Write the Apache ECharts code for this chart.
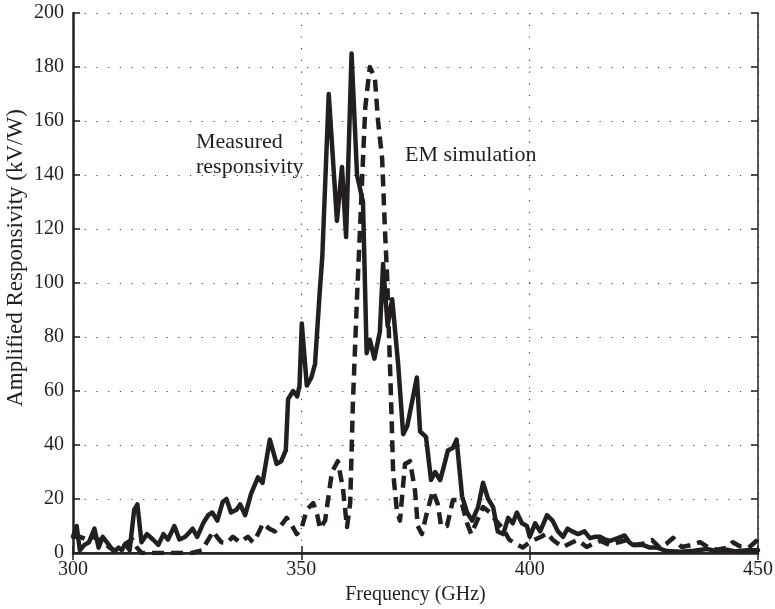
<!DOCTYPE html>
<html>
<head>
<meta charset="utf-8">
<script src="https://cdn.jsdelivr.net/npm/echarts@6/dist/echarts.min.js"></script>
<style>
html,body{margin:0;padding:0;background:#fff;}
#chart{width:775px;height:609px;}
</style>
</head>
<body>
<div id="chart"></div>
<script>
// Measured responsivity (solid)
var measuredFreq = [300,300.8,301.5,302.5,303.5,304.7,305.6,306.5,307.4,308.3,309,310,310.7,311.5,312.4,313.4,314.1,315,316.2,317.5,318.7,319.8,320.8,322.2,323.3,324.6,326.2,327.2,328.5,329.6,330.5,331.6,332.8,333.6,334.6,335.8,336.6,337.7,339,340.5,341.5,343.1,344.6,345.6,346.6,347.1,348.2,349.1,349.6,350.1,351.2,352.2,353,354,354.6,356,357.8,358.9,359.8,361,362.2,363.5,364.3,365,366,367.2,367.9,368.9,369.9,371.2,372.3,373.2,375.3,376,377.3,378.4,379.3,380.4,381.2,382.1,383.2,384,385.2,386.3,387.4,388.7,389.8,390.9,392,393,394.2,395.3,396.3,397.2,398.3,399.4,400,401.2,402.3,403.8,405,406.2,407.3,408.3,409.3,410.6,412,413.2,414.4,415.4,416.5,417.6,419.3,420.8,421.8,422.6,424.8,426.3,427.9,430,433,436,438.8,441,443.2,445,447.6,450];
var measuredVal = [6,10,1,3,4,9,2,6,4,2,0.5,2,1,3.5,1,16,18,4,7,5,3,7,5,10,5,6,9,6,11,14,15,12,19,20,15,16,18,14,22,28,26,42,33,34,38,57,60,58,62,85,62,65,70,96,110,170,123,143,117,185,140,130,74,79,72,82,107,84,94,70,44,47,65,45,43,27,30,27,32,38,39,42,21,15,12,17,26,20,17,8,7,13,11,15,11,10,6,11,8,14,12,8,6,9,8,7,8,5.5,6,6,5,4.5,5.5,6.5,4,3,3,2,2,0.7,0.5,0.8,1.5,0.7,1.2,0.6,1,1];

// EM simulation (dashed)
var simFreq = [300,301.5,303,304.4,305.5,306.6,308,309,310,311,312,313,314,315,318,322,326,328.3,329.3,330.7,331.5,332.5,333.7,335,336.5,338.3,339.4,340.5,341.6,343,344.2,345.3,346.8,348,349,350,351.2,352.6,353.5,354.1,355.2,356.7,358,359.1,360,360.7,361.3,362.2,362.8,363.3,364,365,366.1,366.8,367.7,368.3,368.8,369.2,369.5,369.8,370.1,370.9,371.6,372.7,373.8,374.9,375.5,376.4,377.5,378.8,379.9,380.6,381.9,383.2,384.3,385.2,386.3,387.2,388.5,389.8,391.3,392.6,394.2,395.5,396.8,398.5,400,401.2,402.5,403.8,405,406,407.3,408.8,410.4,411.5,412.5,414,415.5,417.5,419.5,421.3,423,425,426.8,428.5,430,431.4,433.3,435.5,437.3,439,441,443.2,444.5,446,448,449,450];
var simVal = [6,6,5,6,5,4.5,2,1,1.5,2.5,4,5,2,0,0,0,0,1,4,8,6,4,3.7,6,4,6,4,7,11,9,8,9.6,13,10,7,9,16,18.5,14,9,12,30,34,24,9.6,18.5,56,95,118,138,165,180,176,160,146,120,102,80,65,48,30,16,12,33,34,23,10,7,15,23,18,10,10,19.6,19.6,18,11,7,12,17,15,12,9,5,3.5,2,4,5,6,7.4,5,3.7,2.2,3.5,4.8,3.5,2.2,3.5,4.5,3,4,4.8,3,3.5,4.8,1.9,3.5,5.6,2.2,3,4,2.2,1.2,1.9,4,2.5,2,3.5,5];

var xTicks = [300, 350, 400, 450];
var yTicks = [0, 20, 40, 60, 80, 100, 120, 140, 160, 180, 200];

function pairs(xs, ys){ return xs.map(function(x,i){ return [x, ys[i]]; }); }

var FONT = 'Liberation Serif';
var INK = '#231f20';
var chart = echarts.init(document.getElementById('chart'));
var gridDot = { show:true, lineStyle:{ color:'#444', width:1.2, type:[1.2,10.5] } };

chart.setOption({
  animation:false,
  backgroundColor:'#fff',
  grid:{ left:73, right:17, top:13, bottom:56, containLabel:false, outerBoundsMode:'none' },
  xAxis:[{
    type:'value', min:300, max:450, interval:50,
    axisLine:{ show:true, onZero:false, lineStyle:{ color:INK, width:2.5 } },
    axisTick:{ show:true, inside:true, length:7, lineStyle:{ color:INK, width:1.5 } },
    axisLabel:{ color:INK, fontFamily:FONT, fontSize:20, margin:7,
      formatter:function(v){ return xTicks.indexOf(v) >= 0 ? String(v) : ''; } },
    splitLine: gridDot,
    name:'Frequency (GHz)', nameLocation:'middle', nameGap:30,
    nameTextStyle:{ color:INK, fontFamily:FONT, fontSize:20 }
  },{
    type:'value', position:'top', min:300, max:450, interval:50,
    axisLine:{ show:true, lineStyle:{ color:INK, width:1.5 } },
    axisTick:{ show:true, inside:true, length:7, lineStyle:{ color:INK, width:1.5 } },
    axisLabel:{ show:false }, splitLine:{ show:false }
  }],
  yAxis:[{
    type:'value', min:0, max:200, interval:20,
    axisLine:{ show:true, onZero:false, lineStyle:{ color:INK, width:2.5 } },
    axisTick:{ show:true, inside:true, length:7, lineStyle:{ color:INK, width:1.5 } },
    axisLabel:{ color:INK, fontFamily:FONT, fontSize:20, margin:9,
      formatter:function(v){ return yTicks.indexOf(v) >= 0 ? String(v) : ''; } },
    splitLine: gridDot
  },{
    type:'value', position:'right', min:0, max:200, interval:20,
    axisLine:{ show:true, lineStyle:{ color:INK, width:1.5 } },
    axisTick:{ show:true, inside:true, length:7, lineStyle:{ color:INK, width:1.5 } },
    axisLabel:{ show:false }, splitLine:{ show:false }
  }],
  series:[{
    name:'EM simulation', type:'line', xAxisIndex:0, yAxisIndex:0,
    data: pairs(simFreq, simVal), showSymbol:false, symbol:'none',
    lineStyle:{ color:INK, width:4.5, type:[12,7], cap:'butt', join:'round' },
    z:2
  },{
    name:'Measured responsivity', type:'line', xAxisIndex:0, yAxisIndex:0,
    data: pairs(measuredFreq, measuredVal), showSymbol:false, symbol:'none',
    lineStyle:{ color:INK, width:4.5, join:'round', cap:'round' },
    z:3
  }],
  graphic:[
    { type:'text', x:16, y:258, rotation:Math.PI/2,
      style:{ text:'Amplified Responsivity (kV/W)', font:'23px "Liberation Serif"', fill:INK, align:'center', verticalAlign:'middle' } },
    { type:'text', left:196, top:131, style:{ text:'Measured', font:'22px "Liberation Serif"', fill:INK } },
    { type:'text', left:196, top:156, style:{ text:'responsivity', font:'22px "Liberation Serif"', fill:INK } },
    { type:'text', left:405, top:144, style:{ text:'EM simulation', font:'22px "Liberation Serif"', fill:INK } }
  ]
});
</script>
</body>
</html>
